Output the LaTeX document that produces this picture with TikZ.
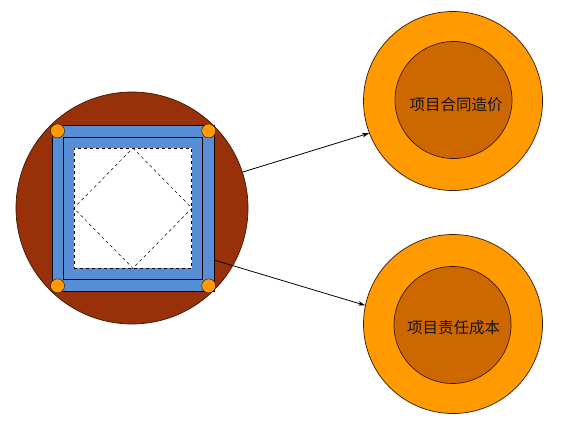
\documentclass[tikz,border=0pt]{standalone}
\usepackage{fontspec}
\newfontfamily\cjk{Noto Sans CJK SC}
\usetikzlibrary{arrows.meta,calc}
\definecolor{brick}{HTML}{98300A}
\definecolor{beam}{HTML}{578ED6}
\definecolor{orng}{HTML}{FF9A00}
\definecolor{darkorng}{HTML}{CD6700}
\definecolor{edge}{HTML}{3A1A00}
\begin{document}
\begin{tikzpicture}[x=1pt,y=-1pt,
  bigc/.style={circle,fill=brick,draw=edge,line width=0.7pt,minimum size=232pt,inner sep=0pt},
  rectbox/.style={rectangle,fill=beam,draw=black,line width=0.7pt,inner sep=0pt},
  whitebox/.style={rectangle,fill=white,draw=black,dashed,line width=0.5pt,inner sep=0pt},
  dot/.style={circle,fill=orng,draw=edge,line width=0.5pt,minimum size=14pt,inner sep=0pt},
  outerc/.style={circle,fill=orng,draw=edge,line width=0.7pt,minimum size=179pt,inner sep=0pt},
  innerc/.style={circle,fill=darkorng,draw=edge,line width=0.7pt,minimum size=117pt,inner sep=0pt},
  lbl/.style={inner sep=0pt,font=\cjk\fontsize{15.5pt}{18pt}\selectfont,text=black!92},
  arr/.style={-{Stealth[length=7pt,width=4.5pt]},line width=0.8pt,black}
]
\useasboundingbox (0,0) rectangle (580,421);
\fill[white] (0,0) rectangle (580,421);

% left part
\node[bigc] (big) at (132,208) {};
\node[rectbox,minimum width=161.5pt,minimum height=166pt] (frame) at (133.25,208.5) {};
\node[rectbox,minimum width=139.4pt,minimum height=142.5pt] (inner) at (133,208.25) {};
\node[whitebox,minimum width=117.7pt,minimum height=119.7pt] (win) at (132.85,208.15) {};
\draw[dashed,line width=0.5pt] (win.north) -- (win.east) -- (win.south) -- (win.west) -- cycle;

\node[dot] (d1) at ($(frame.north west)!0.5!(inner.north west)$) {};
\node[dot] (d2) at ($(frame.north east)!0.5!(inner.north east)$) {};
\node[dot] (d3) at ($(frame.south west)!0.5!(inner.south west)$) {};
\node[dot] (d4) at ($(frame.south east)!0.5!(inner.south east)$) {};

% right circles
\node[outerc] (c1) at (453,101) {};
\node[innerc] (i1) at (453.5,100) {};
\node[lbl] (t1) at (456,105) {项目合同造价};
\node[outerc] (c2) at (453,324) {};
\node[innerc] (i2) at (452.5,325) {};
\node[lbl] (t2) at (453.5,328) {项目责任成本};

% arrows
\coordinate (s2) at (214,260);
\draw[arr] (big.18.4) -- (c1.201);
\draw[arr] (s2) -- (c2.168);
\end{tikzpicture}
\end{document}
